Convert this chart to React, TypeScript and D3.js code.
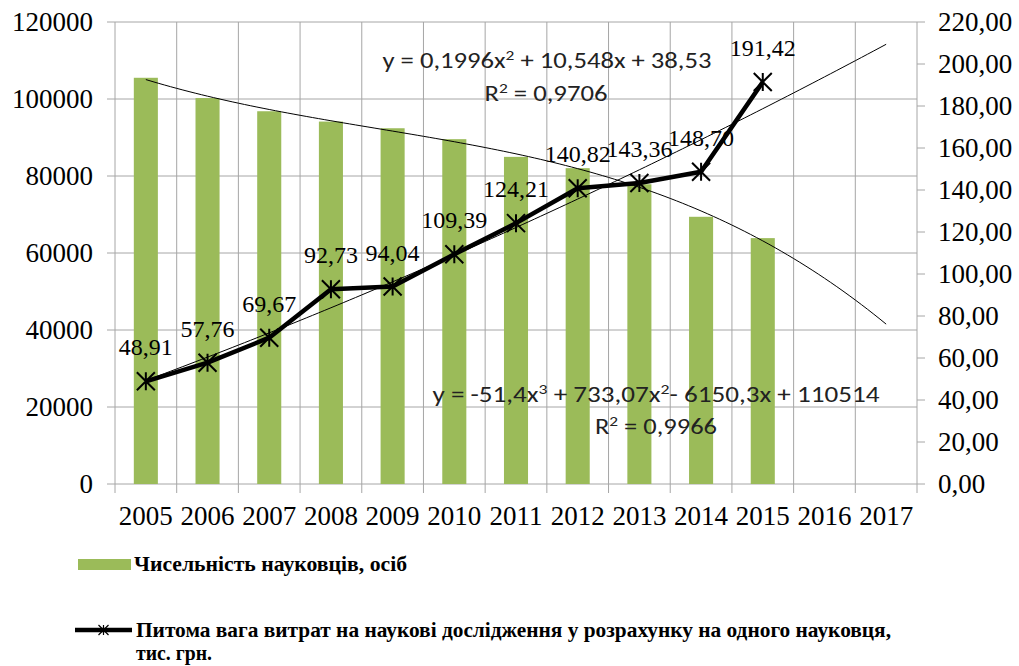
import React, { useEffect, useRef } from "react";
import * as d3 from "d3";

const years = ["2005", "2006", "2007", "2008", "2009", "2010", "2011", "2012", "2013", "2014", "2015", "2016", "2017"];
const scientists = [105512, 100245, 96820, 94138, 92403, 89564, 84969, 82032, 77853, 69404, 63864];
const costPerScientist = [48.91, 57.76, 69.67, 92.73, 94.04, 109.39, 124.21, 140.82, 143.36, 148.7, 191.42];
const leftTicks = [0, 20000, 40000, 60000, 80000, 100000, 120000];
const rightTicks = [0, 20, 40, 60, 80, 100, 120, 140, 160, 180, 200, 220];
// trendline coefficients as shown on the chart (constant first)
const quadCoef = [38.53, 10.548, 0.1996];
const cubicCoef = [110514, -6150.3, 733.07, -51.4];
const barLegend = "Чисельність науковців, осіб";
const lineLegend1 = "Питома вага витрат на наукові дослідження у розрахунку на одного науковця,";
const lineLegend2 = "тис. грн.";

const W = 1019, H = 666;
const m = { left: 115, right: 917, top: 22, bottom: 484 };
const serif = '"Liberation Serif", "Times New Roman", serif';
const sans = '"Carlito", "Liberation Sans", sans-serif';

function App() {
  const ref = useRef<SVGSVGElement>(null);

  useEffect(() => {
    const svg = d3.select(ref.current);
    svg.selectAll("*").remove();

    const x = d3.scaleBand().domain(years).range([m.left, m.right]);
    const xBar = d3.scaleBand().domain(years).range([m.left, m.right]).paddingInner(0.61).paddingOuter(0.305);
    const yL = d3.scaleLinear().domain([0, 120000]).range([m.bottom, m.top]);
    const yR = d3.scaleLinear().domain([0, 220]).range([m.bottom, m.top]);
    const cx = (yr: string) => (x(yr) as number) + x.bandwidth() / 2;
    const grid = "#a6a6a6";

    // horizontal grid + left ticks
    svg.append("g").selectAll("line").data(leftTicks).enter().append("line")
      .attr("x1", m.left - 8).attr("x2", m.right)
      .attr("y1", d => yL(d)).attr("y2", d => yL(d))
      .attr("stroke", grid).attr("stroke-width", 1);
    // vertical grid at category boundaries
    const bounds = years.map(yr => x(yr) as number).concat([m.right]);
    svg.append("g").selectAll("line").data(bounds).enter().append("line")
      .attr("x1", d => d).attr("x2", d => d)
      .attr("y1", m.top).attr("y2", m.bottom + 9)
      .attr("stroke", grid).attr("stroke-width", 1);
    // right ticks
    svg.append("g").selectAll("line").data(rightTicks).enter().append("line")
      .attr("x1", m.right).attr("x2", m.right + 8)
      .attr("y1", d => yR(d)).attr("y2", d => yR(d))
      .attr("stroke", grid).attr("stroke-width", 1);

    // tick labels
    svg.append("g").selectAll("text").data(leftTicks).enter().append("text")
      .attr("x", 93).attr("y", d => yL(d)).attr("dy", "0.35em")
      .attr("text-anchor", "end").style("font-family", serif).style("font-size", "27px")
      .text(d => String(d));
    svg.append("g").selectAll("text").data(rightTicks).enter().append("text")
      .attr("x", 938).attr("y", d => yR(d)).attr("dy", "0.35em")
      .style("font-family", serif).style("font-size", "27px")
      .text(d => d.toFixed(2).replace(".", ","));
    svg.append("g").selectAll("text").data(years).enter().append("text")
      .attr("x", d => cx(d)).attr("y", 525)
      .attr("text-anchor", "middle").style("font-family", serif).style("font-size", "27px")
      .text(d => d);

    // bars
    svg.append("g").selectAll("rect").data(scientists).enter().append("rect")
      .attr("x", (d, i) => xBar(years[i]) as number)
      .attr("width", xBar.bandwidth())
      .attr("y", d => yL(d))
      .attr("height", d => m.bottom - yL(d))
      .attr("fill", "#9bbb59");

    // trendlines
    const xt = d3.scaleLinear().domain([1, 13]).range([cx(years[0]), cx(years[12])]);
    const ts = d3.range(1, 13.001, 0.1);
    const poly = (c: number[], t: number) => c.reduce((s, k, i) => s + k * Math.pow(t, i), 0);
    const tl = d3.line<number>().x(t => xt(t));
    svg.append("path")
      .attr("d", tl.y(t => yL(poly(cubicCoef, t)))(ts))
      .attr("fill", "none").attr("stroke", "#000").attr("stroke-width", 1);
    svg.append("path")
      .attr("d", tl.y(t => yR(poly(quadCoef, t)))(ts))
      .attr("fill", "none").attr("stroke", "#000").attr("stroke-width", 1);

    // main line
    const line = d3.line<number>().x((d, i) => cx(years[i])).y(d => yR(d));
    svg.append("path").attr("d", line(costPerScientist))
      .attr("fill", "none").attr("stroke", "#000").attr("stroke-width", 4.5)
      .attr("stroke-linejoin", "round");

    const star = (g: any, px: number, py: number, r: number, w: number) => {
      g.append("path")
        .attr("d", `M${px - r},${py - r}L${px + r},${py + r}M${px - r},${py + r}L${px + r},${py - r}M${px},${py - r}L${px},${py + r}`)
        .attr("stroke", "#000").attr("stroke-width", w).attr("fill", "none");
    };
    const mk = svg.append("g");
    costPerScientist.forEach((d, i) => star(mk, cx(years[i]), yR(d), 9, 2));

    // data labels
    svg.append("g").selectAll("text").data(costPerScientist).enter().append("text")
      .attr("x", (d, i) => cx(years[i])).attr("y", d => yR(d) - 26)
      .attr("text-anchor", "middle").style("font-family", serif).style("font-size", "24px")
      .text(d => d.toFixed(2).replace(".", ","));

    // trendline equations
    const eq = (xc: number, yb: number, parts: [string, boolean][], len: number) => {
      const t = svg.append("text").attr("x", xc - len / 2).attr("y", yb)
        .style("font-family", sans).style("font-size", "23px").attr("fill", "#222")
        .attr("textLength", len).attr("lengthAdjust", "spacingAndGlyphs");
      let shift = 0;
      parts.forEach(([s, sup]) => {
        const dy = sup ? -8 - shift : -shift;
        shift = sup ? -8 : 0;
        t.append("tspan").style("font-size", sup ? "15px" : "23px").attr("dy", dy).text(s);
      });
    };
    eq(547, 68, [["y = 0,1996x", false], ["2", true], [" + 10,548x + 38,53", false]], 329);
    eq(546, 101, [["R", false], ["2", true], [" = 0,9706", false]], 123);
    eq(656, 402, [["y = -51,4x", false], ["3", true], [" + 733,07x", false], ["2", true], ["- 6150,3x + 110514", false]], 447);
    eq(656, 434, [["R", false], ["2", true], [" = 0,9966", false]], 122);

    // legend
    svg.append("rect").attr("x", 78).attr("y", 559).attr("width", 53).attr("height", 11).attr("fill", "#9bbb59");
    svg.append("text").attr("x", 134).attr("y", 571)
      .style("font-family", serif).style("font-weight", "bold").style("font-size", "21px")
      .attr("textLength", 273).attr("lengthAdjust", "spacingAndGlyphs").text(barLegend);
    svg.append("line").attr("x1", 75).attr("x2", 132).attr("y1", 630).attr("y2", 630)
      .attr("stroke", "#000").attr("stroke-width", 4.5);
    star(svg, 103.5, 630, 5, 1.2);
    svg.append("text").attr("x", 136).attr("y", 637)
      .style("font-family", serif).style("font-weight", "bold").style("font-size", "21px")
      .attr("textLength", 755).attr("lengthAdjust", "spacingAndGlyphs").text(lineLegend1);
    svg.append("text").attr("x", 136).attr("y", 660)
      .style("font-family", serif).style("font-weight", "bold").style("font-size", "20px")
      .attr("textLength", 76).attr("lengthAdjust", "spacingAndGlyphs").text(lineLegend2);
  }, []);

  return (
    <svg ref={ref} width={W} height={H}
      style={{ position: "absolute", left: 0, top: 0, background: "#fff" }} />
  );
}

export default App;
